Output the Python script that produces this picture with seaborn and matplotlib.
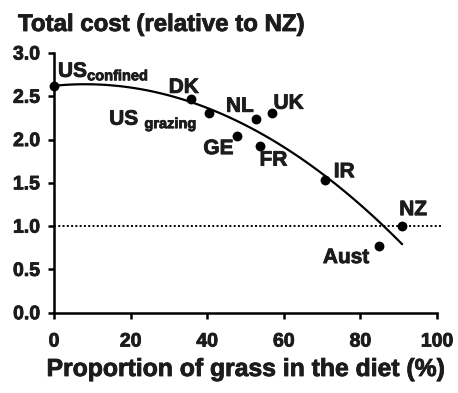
import matplotlib
matplotlib.use("Agg")
import matplotlib.pyplot as plt
import matplotlib.patheffects as pe
import seaborn as sns
import pandas as pd

sns.set_theme(style="ticks")
plt.rcParams["font.family"] = ["Liberation Sans", "DejaVu Sans"]
plt.rcParams["font.weight"] = "bold"
plt.rcParams["mathtext.fontset"] = "custom"
plt.rcParams["mathtext.bf"] = "Liberation Sans:bold"
plt.rcParams["mathtext.rm"] = "Liberation Sans:bold"

# Dairy systems: share of grass in the diet (%) and total cost relative to NZ
countries = ["US_confined", "DK", "US_grazing", "NL", "UK", "GE", "FR", "IR", "Aust", "NZ"]
grass_pct = [0.0, 35.7, 40.6, 52.7, 56.8, 47.9, 53.9, 70.8, 84.9, 90.9]
total_cost = [2.62, 2.47, 2.31, 2.24, 2.31, 2.04, 1.93, 1.53, 0.77, 1.00]

x_ticks = [0, 20, 40, 60, 80, 100]
y_ticks = [0.0, 0.5, 1.0, 1.5, 2.0, 2.5, 3.0]
reference_level = 1.0

df = pd.DataFrame({"country": countries, "grass": grass_pct, "cost": total_cost})

# label text and pixel offsets from each point (dx, dy, ha); dy is to the baseline
label_text = {
    "US_confined": r"$\mathbf{US}_{\mathbf{confined}}$",
    "US_grazing": r"$\mathbf{US}\;_{\mathbf{grazing}}$",
}
label_offset = {
    "US_confined": (4, 9, "left"),
    "DK": (-7, 6, "center"),
    "US_grazing": (-12, -12, "right"),
    "NL": (-16, 7, "center"),
    "UK": (17, 4, "center"),
    "GE": (-19, -18, "center"),
    "FR": (13, -20, "center"),
    "IR": (19, 3, "center"),
    "Aust": (-33, -17, "center"),
    "NZ": (11, 11, "center"),
}

TXT = "#1c1c1c"
heavy = [pe.withStroke(linewidth=0.6, foreground=TXT)]

fig = plt.figure(figsize=(4.58, 3.93), dpi=100)
ax = fig.add_axes([54 / 458, 1 - 312.7 / 393, (437 - 54) / 458, (312.7 - 53) / 393])

ax.axhline(reference_level, xmax=1.01, color="black", lw=1.4, ls=(0, (1, 1.2)),
           zorder=1, clip_on=False)

sns.regplot(data=df, x="grass", y="cost", order=2, ci=None, scatter=False,
            truncate=True, color="black", line_kws={"lw": 1.6}, ax=ax)
sns.scatterplot(data=df, x="grass", y="cost", color="black", s=50,
                edgecolor="black", linewidth=0, zorder=3, clip_on=False, ax=ax)

for c, gx, gy in zip(countries, grass_pct, total_cost):
    dx, dy, ha = label_offset[c]
    ax.annotate(label_text.get(c, c), (gx, gy), xytext=(dx, dy),
                textcoords="offset pixels", ha=ha, va="baseline",
                fontsize=15, fontweight="bold", color=TXT, path_effects=heavy)

ax.set_xlim(0, 100)
ax.set_ylim(0, 3)
ax.set_xticks(x_ticks)
ax.set_yticks(y_ticks)
ax.set_xticklabels([str(t) for t in x_ticks])
ax.set_yticklabels([f"{t:.1f}" for t in y_ticks])
ax.set_xlabel("Proportion of grass in the diet (%)", fontsize=17.8,
              fontweight="bold", color=TXT)
ax.xaxis.label.set_va("baseline")
ax.xaxis.label.set_path_effects(heavy)
ax.xaxis.set_label_coords(0.5, (312.7 - 376) / (312.7 - 53))
ax.set_ylabel("")
sns.despine(ax=ax)
for s in ("left", "bottom"):
    ax.spines[s].set_linewidth(1.8)
    ax.spines[s].set_color("black")
ax.tick_params(axis="both", direction="out", length=4, width=1.8, color="black",
               labelsize=14, labelcolor=TXT)
ax.tick_params(axis="x", pad=11)
ax.tick_params(axis="y", pad=6)
for lbl in ax.get_xticklabels() + ax.get_yticklabels():
    lbl.set_fontweight("bold")
    lbl.set_path_effects(heavy)

fig.text(18 / 458, 1 - 31 / 393, "Total cost (relative to NZ)", ha="left",
         va="baseline", fontsize=17.3, fontweight="bold", color=TXT,
         path_effects=heavy)

fig.savefig("out.png", dpi=100, facecolor="white")
